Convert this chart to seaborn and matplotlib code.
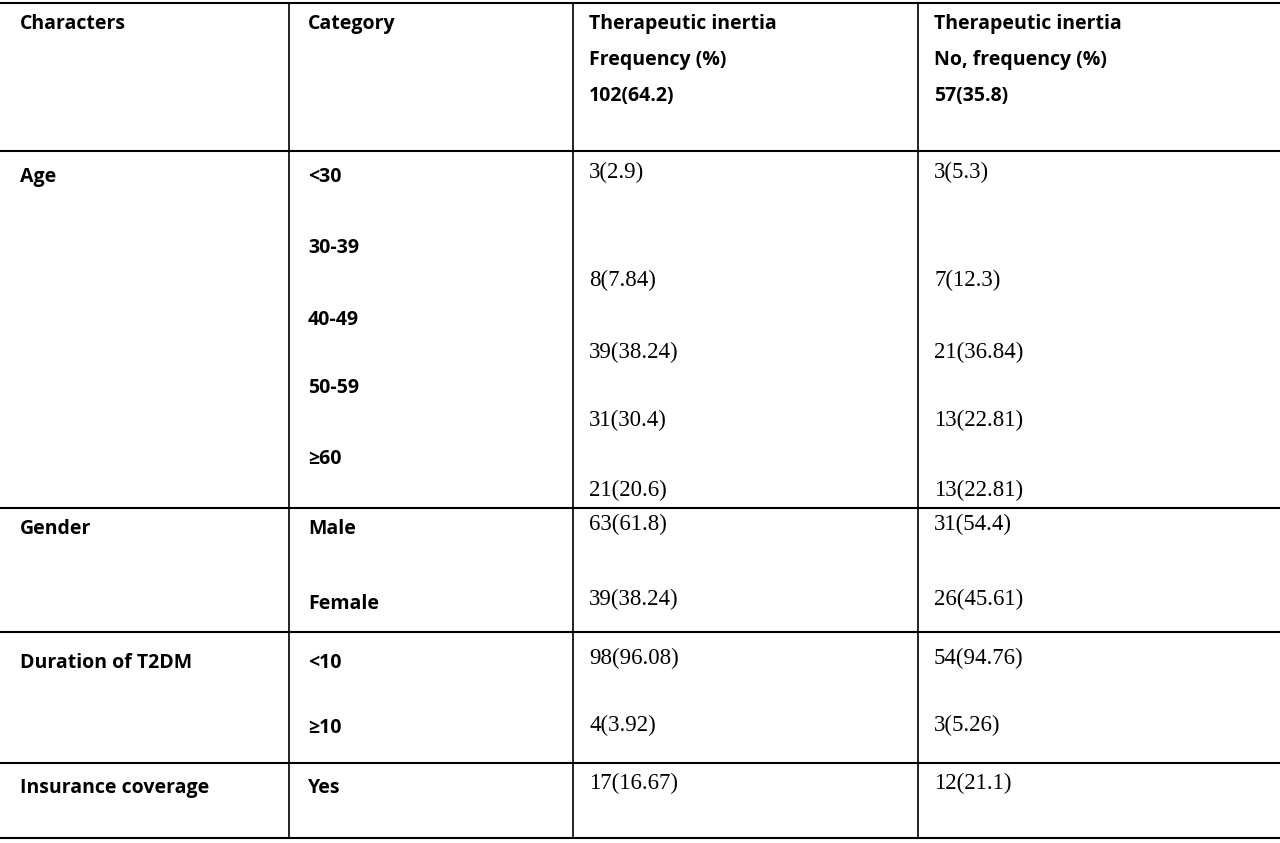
import seaborn as sns
import matplotlib.pyplot as plt

sns.set_theme(style="white")

headers = ["Characters", "Category",
           "Therapeutic inertia\nFrequency (%)\n102(64.2)",
           "Therapeutic inertia\nNo, frequency (%)\n57(35.8)"]
characters = ["Age", "Gender", "Duration of T2DM", "Insurance coverage"]
categories = [["<30", "30-39", "40-49", "50-59", "≥60"],
              ["Male", "Female"],
              ["<10", "≥10"],
              ["Yes"]]
inertia_yes = [["3(2.9)", "8(7.84)", "39(38.24)", "31(30.4)", "21(20.6)"],
               ["63(61.8)", "39(38.24)"],
               ["98(96.08)", "4(3.92)"],
               ["17(16.67)"]]
inertia_no = [["3(5.3)", "7(12.3)", "21(36.84)", "13(22.81)", "13(22.81)"],
              ["31(54.4)", "26(45.61)"],
              ["54(94.76)", "3(5.26)"],
              ["12(21.1)"]]

# layout in pixel coordinates
col_x = [20, 308, 589, 934]
vlines = [289, 573, 918]
hlines = [3, 151, 508, 632, 763, 838]
label_y = [[177, 248, 320, 388, 459], [529, 604], [663, 728], [788]]
value_y = [[172, 280, 352, 420, 490], [524, 599], [658, 725], [783]]

fig = plt.figure(figsize=(12.8, 8.43), dpi=100)
ax = fig.add_axes([0, 0, 1, 1])
ax.set_xlim(0, 1280)
ax.set_ylim(843, 0)
ax.axis("off")

bold = dict(family="Open Sans", fontweight="bold", fontsize=14, color="black", va="center")
serif = dict(family="Liberation Serif", fontsize=16.5, color="black", va="center")

for y in hlines:
    ax.plot([0, 1280], [y, y], color="black", lw=1.5)
for x in vlines:
    ax.plot([x, x], [hlines[0], hlines[-1]], color="black", lw=1.2)

for i, h in enumerate(headers):
    ax.text(col_x[i], 14, h, linespacing=2.05, **{**bold, "va": "top"})

for g, ch in enumerate(characters):
    ax.text(col_x[0], label_y[g][0], ch, **bold)
    for k, cat in enumerate(categories[g]):
        ax.text(col_x[1], label_y[g][k], cat, **bold)
        ax.text(col_x[2], value_y[g][k], inertia_yes[g][k], **serif)
        ax.text(col_x[3], value_y[g][k], inertia_no[g][k], **serif)

fig.savefig("out.png", dpi=100)
